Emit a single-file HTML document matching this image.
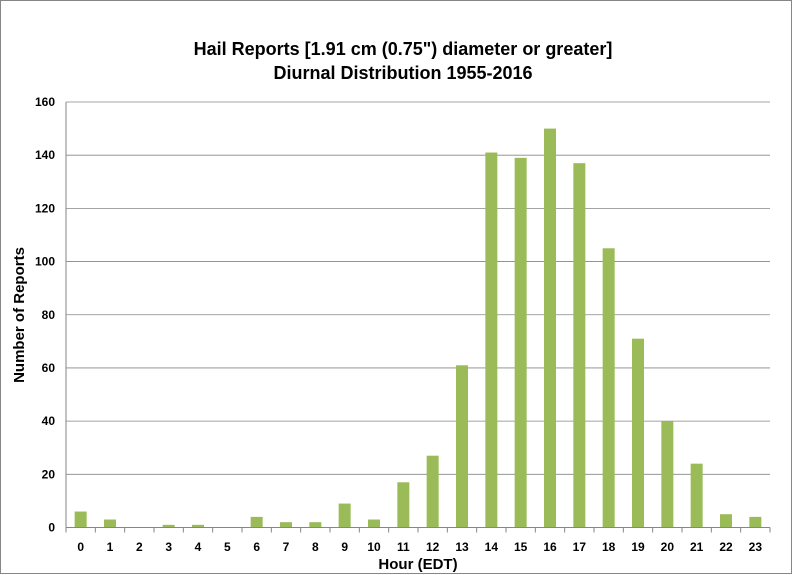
<!DOCTYPE html>
<html><head><meta charset="utf-8"><style>
body{margin:0;background:#fff}
svg{display:block;font-family:"Liberation Sans",Arial,sans-serif}
</style></head><body>
<svg id="chart" width="793" height="575">
<rect x="0.5" y="0.5" width="791" height="573" fill="#fff" stroke="#868686"/>
<text x="403" y="55" text-anchor="middle" font-size="18" font-weight="bold" fill="#000">Hail Reports [1.91 cm (0.75") diameter or greater]</text>
<text x="403" y="79" text-anchor="middle" font-size="18" font-weight="bold" fill="#000">Diurnal Distribution 1955-2016</text>
<text transform="translate(24,315) rotate(-90)" text-anchor="middle" font-size="15" font-weight="bold">Number of Reports</text>
<text x="418" y="569" text-anchor="middle" font-size="15" font-weight="bold">Hour (EDT)</text>
<g id="grid"></g><g id="bars"></g><g id="axes"></g>
</svg>
<script>
const categories=["0","1","2","3","4","5","6","7","8","9","10","11","12","13","14","15","16","17","18","19","20","21","22","23"];
const values=[6,3,0,1,1,0,4,2,2,9,3,17,27,61,141,139,150,137,105,71,40,24,5,4];
const yTicks=[0,20,40,60,80,100,120,140,160];
const NS="http://www.w3.org/2000/svg";
const X0=66,X1=770,Y0=527.5,Y1=102,YMAX=160;
const bw=(X1-X0)/categories.length;
const y=v=>Y0-(v/YMAX)*(Y0-Y1);
const x=i=>X0+i*bw;
function mk(t,a,p){const e=document.createElementNS(NS,t);for(const k in a)e.setAttribute(k,a[k]);p.appendChild(e);return e;}
const grid=document.getElementById('grid'),bars=document.getElementById('bars'),axes=document.getElementById('axes');
yTicks.forEach(t=>{
  if(t>0){const l=mk('line',{x1:X0,x2:X1,y1:y(t),y2:y(t),stroke:'#868686','stroke-width':0.8},grid);
  
  }
  const tx=mk('text',{x:X0-11,y:y(t)+4,'text-anchor':'end','font-size':12,'font-weight':'bold'},axes);
  tx.textContent=t;
  
  
});
values.forEach((v,i)=>{
  const r=mk('rect',{x:x(i)+bw/2-6,y:y(v),width:12,height:Y0-y(v),fill:'#9bbb59'},bars);
  
  
  const tx=mk('text',{x:x(i)+bw/2,y:551,'text-anchor':'middle','font-size':12,'font-weight':'bold'},axes);
  tx.textContent=categories[i];
  
  
});
for(let i=0;i<=categories.length;i++){
  const t=mk('line',{x1:x(i),x2:x(i),y1:Y0,y2:Y0+5,stroke:'#868686'},axes);
  
  
}
const xa=mk('line',{x1:X0,x2:X1,y1:Y0,y2:Y0,stroke:'#868686'},axes);


const ya=mk('line',{x1:X0,x2:X0,y1:Y1,y2:Y0,stroke:'#868686'},axes);


</script>
</body></html>
